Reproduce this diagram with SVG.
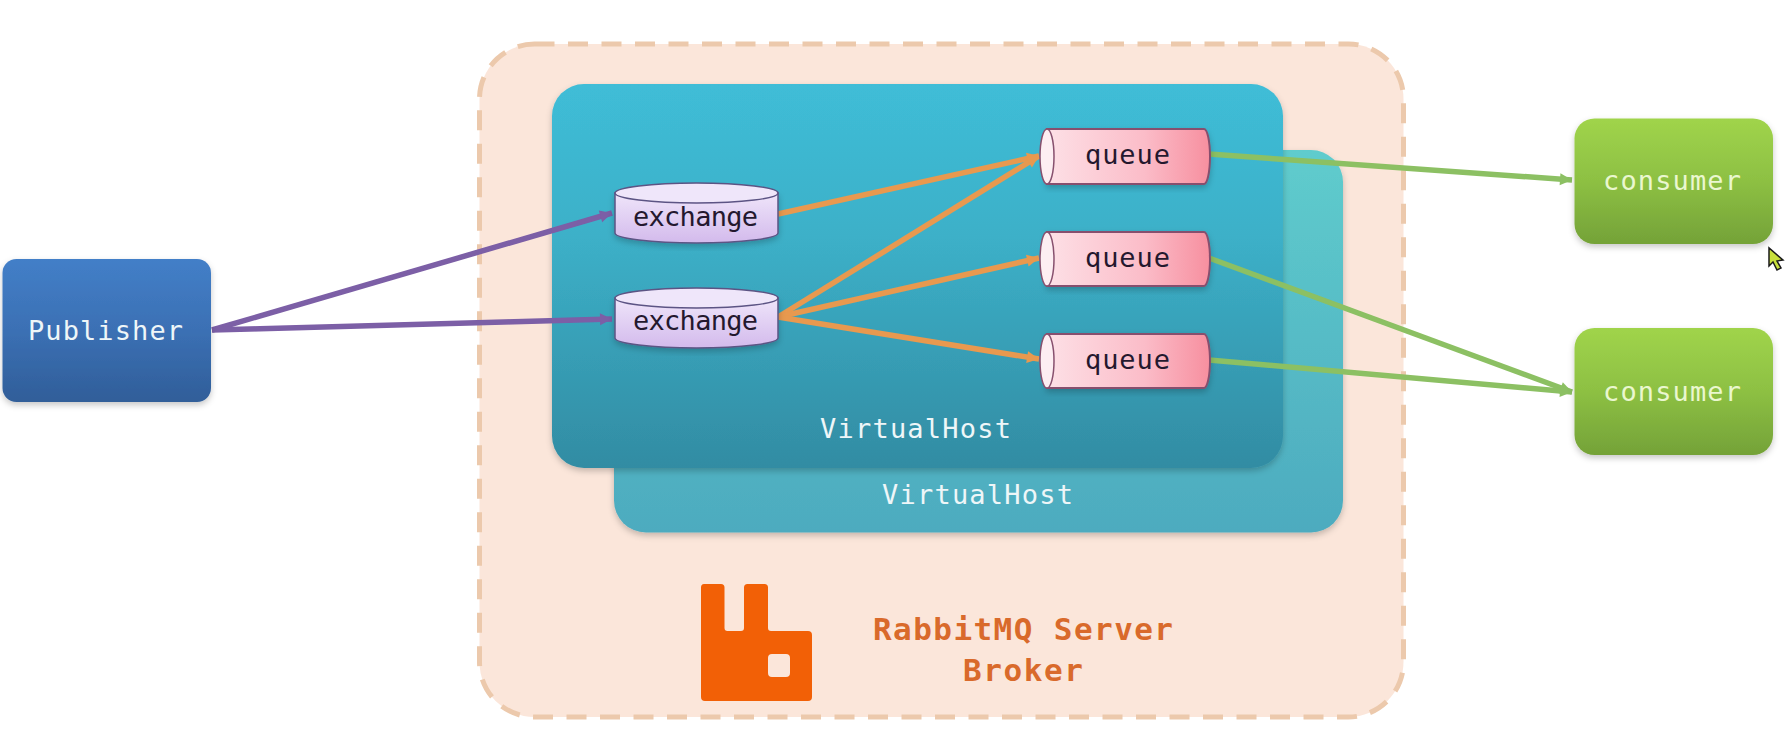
<svg xmlns="http://www.w3.org/2000/svg" width="1786" height="745" viewBox="0 0 1786 745">
<style>
text{font-family:"DejaVu Sans Mono","Liberation Mono",monospace;font-size:27px}
.lt{fill:#eef6f8}.dk{fill:#24182e}.con{fill:#eaf7cf}
.br{font-size:31px;font-weight:bold;fill:#d96a2b}
.pu{stroke:#7c5ea6}.or{stroke:#e8994f}.gr{stroke:#8cc063}
.pu,.or,.gr{fill:none;stroke-width:5.500}
.ex{fill:url(#gEx);stroke:#5c5484;stroke-width:1.5}
.qu{fill:url(#gQu);stroke:#87506e;stroke-width:2}
.sh{filter:url(#shadow)}
</style>
<defs>
<linearGradient id="gFront" x1="0" y1="0" x2="0" y2="1"><stop offset="0" stop-color="#3fbdd7"/><stop offset=".4" stop-color="#3cb0c8"/><stop offset="1" stop-color="#328ca3"/></linearGradient>
<linearGradient id="gBack" x1="0" y1="0" x2="0" y2="1"><stop offset="0" stop-color="#5fcccd"/><stop offset="1" stop-color="#4dabbf"/></linearGradient>
<linearGradient id="gPub" x1="0" y1="0" x2="0" y2="1"><stop offset="0" stop-color="#437fc8"/><stop offset=".5" stop-color="#3b70b4"/><stop offset="1" stop-color="#305e99"/></linearGradient>
<linearGradient id="gCon" x1="0" y1="0" x2="0" y2="1"><stop offset="0" stop-color="#a0d44b"/><stop offset=".5" stop-color="#8dc043"/><stop offset="1" stop-color="#74a238"/></linearGradient>
<linearGradient id="gEx" x1="0" y1="0" x2="0" y2="1"><stop offset="0" stop-color="#efe5fa"/><stop offset="1" stop-color="#d3baec"/></linearGradient>
<linearGradient id="gQu" x1="0" y1="0" x2="1" y2="0"><stop offset="0" stop-color="#fde0e6"/><stop offset=".6" stop-color="#fbbcc8"/><stop offset="1" stop-color="#f78f9f"/></linearGradient>
<filter id="shadow" x="-10%" y="-10%" width="120%" height="125%"><feDropShadow dx="0" dy="3" stdDeviation="3" flood-color="#000" flood-opacity=".22"/></filter>
<filter id="soft" filterUnits="userSpaceOnUse" x="0" y="0" width="1786" height="745"><feGaussianBlur stdDeviation=".7"/></filter>
<marker id="aP" markerUnits="userSpaceOnUse" markerWidth="18" markerHeight="16" refX="15" refY="8" orient="auto"><path d="M3 2L15 8L3 14z" fill="#7c5ea6"/></marker>
<marker id="aO" markerUnits="userSpaceOnUse" markerWidth="18" markerHeight="16" refX="15" refY="8" orient="auto"><path d="M3 2L15 8L3 14z" fill="#e8994f"/></marker>
<marker id="aG" markerUnits="userSpaceOnUse" markerWidth="18" markerHeight="16" refX="15" refY="8" orient="auto"><path d="M3 2L15 8L3 14z" fill="#8cc063"/></marker>
</defs>
<rect width="1786" height="745" fill="#fff"/>
<g id="broker">
<rect x="479.5" y="44" width="924" height="673" rx="55" fill="#fbe6da" stroke="#ecc9ac" stroke-width="5" stroke-dasharray="20 13.5"/>
<path fill="#f26006" fill-rule="evenodd" d="M704 584H721Q724.500 584 724.500 587.500V628Q724.500 631 727.500 631H741Q744 631 744 628V587.500Q744 584 747.500 584H764.500Q768 584 768 587.500V628Q768 631 771 631H808Q812 631 812 635V697Q812 701 808 701H705Q701 701 701 697V587.500Q701 584 704 584ZM772 654Q768 654 768 658V673Q768 677 772 677H786Q790 677 790 673V658Q790 654 786 654Z"/>
<text class="br" x="873" y="640" textLength="300" lengthAdjust="spacing">RabbitMQ Server</text>
<text class="br" x="963" y="681" textLength="120" lengthAdjust="spacing">Broker</text>
</g>
<g id="virtualhost-back">
<rect class="sh" x="614" y="150" width="729" height="382.500" rx="32" fill="url(#gBack)"/>
<text class="lt" x="882" y="504" textLength="191" lengthAdjust="spacing">VirtualHost</text>
</g>
<g id="virtualhost-front">
<rect class="sh" x="552" y="84" width="731" height="384" rx="32" fill="url(#gFront)"/>
<text class="lt" x="820" y="438" textLength="191" lengthAdjust="spacing">VirtualHost</text>
</g>
<g id="connectors" filter="url(#soft)">
<line class="pu" x1="212" y1="330" x2="612" y2="213" marker-end="url(#aP)"/>
<line class="pu" x1="212" y1="330" x2="612" y2="319" marker-end="url(#aP)"/>
<line class="or" x1="778" y1="214" x2="1039" y2="156" marker-end="url(#aO)"/>
<line class="or" x1="778" y1="317" x2="1039" y2="156" marker-end="url(#aO)"/>
<line class="or" x1="778" y1="317" x2="1039" y2="258" marker-end="url(#aO)"/>
<line class="or" x1="778" y1="317" x2="1039" y2="359" marker-end="url(#aO)"/>
<line class="gr" x1="1209" y1="154" x2="1572" y2="180" marker-end="url(#aG)"/>
<line class="gr" x1="1209" y1="258" x2="1572" y2="392" marker-end="url(#aG)"/>
<line class="gr" x1="1209" y1="360" x2="1572" y2="392" marker-end="url(#aG)"/>
</g>
<g id="publisher">
<rect class="sh" x="2.500" y="259" width="208.500" height="143" rx="14" fill="url(#gPub)"/>
<text class="lt" x="28" y="340" textLength="155" lengthAdjust="spacing">Publisher</text>
</g>
<g id="exchange-1">
<path class="ex sh" d="M615 193V233A81.500 10 0 0 0 778 233V193Z"/>
<ellipse class="ex" cx="696.500" cy="193" rx="81.500" ry="10" style="fill:#efe6fa"/>
<text class="dk" x="633" y="226" textLength="125" lengthAdjust="spacing">exchange</text>
</g>
<g id="exchange-2">
<path class="ex sh" d="M615 298V338A81.500 10 0 0 0 778 338V298Z"/>
<ellipse class="ex" cx="696.500" cy="298" rx="81.500" ry="10" style="fill:#efe6fa"/>
<text class="dk" x="633" y="330" textLength="125" lengthAdjust="spacing">exchange</text>
</g>
<g id="queue-1">
<path class="qu sh" d="M1047 129H1204A6 27.500 0 0 1 1204 184H1047Z"/>
<ellipse cx="1047" cy="156.500" rx="7" ry="27.500" fill="#fdeef2" stroke="#87506e" stroke-width="1.500"/>
<text class="dk" x="1085" y="164" textLength="85" lengthAdjust="spacing">queue</text>
</g>
<g id="queue-2">
<path class="qu sh" d="M1047 232H1204A6 27 0 0 1 1204 286H1047Z"/>
<ellipse cx="1047" cy="259" rx="7" ry="27" fill="#fdeef2" stroke="#87506e" stroke-width="1.500"/>
<text class="dk" x="1085" y="267" textLength="85" lengthAdjust="spacing">queue</text>
</g>
<g id="queue-3">
<path class="qu sh" d="M1047 334H1204A6 27 0 0 1 1204 388H1047Z"/>
<ellipse cx="1047" cy="361" rx="7" ry="27" fill="#fdeef2" stroke="#87506e" stroke-width="1.500"/>
<text class="dk" x="1085" y="369" textLength="85" lengthAdjust="spacing">queue</text>
</g>
<g id="consumer-1">
<rect class="sh" x="1574.500" y="118.500" width="198.500" height="125.500" rx="20" fill="url(#gCon)"/>
<text class="con" x="1603" y="190" textLength="138" lengthAdjust="spacing">consumer</text>
</g>
<g id="consumer-2">
<rect class="sh" x="1574.500" y="328" width="198.500" height="127" rx="20" fill="url(#gCon)"/>
<text class="con" x="1603" y="401" textLength="138" lengthAdjust="spacing">consumer</text>
</g>
<path id="cursor" d="M1769 248L1769 266L1773 262L1777 270L1781 268L1777 261L1783 260Z" fill="#c8e03c" stroke="#1a1a1a" stroke-width="1.500"/>
</svg>
